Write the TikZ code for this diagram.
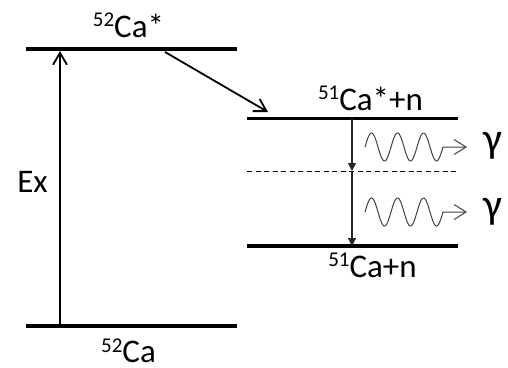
\documentclass[tikz,border=0pt]{standalone}
\usepackage{fontspec}
\setmainfont{Carlito}
\usetikzlibrary{arrows.meta}
\newcommand\isot[1]{\raisebox{10.3pt}{\fontsize{21}{21}\selectfont #1}}
\begin{document}
\begin{tikzpicture}[x=1pt,y=-1pt,
  lbl/.style={inner sep=0pt, anchor=base, font=\fontsize{33}{40}\selectfont},
  glbl/.style={inner sep=0pt, anchor=base, font=\fontsize{42}{50}\selectfont},
  level/.style={line width=3.5pt},
  excite/.style={line width=1.8pt, -{Straight Barb[length=12pt,width=14pt,line width=1.8pt]}},
  decay/.style={line width=1.2pt, draw=black!85, -{Triangle[length=8pt,width=8pt]}},
  wave/.style={line width=1pt, draw=black!75, -{Straight Barb[length=12pt,width=15pt,line width=1pt]}}]
\useasboundingbox (0,0) rectangle (508,367);
% level endpoints
\coordinate (gsL) at (26,49);   \coordinate (gsR) at (237,49);
\coordinate (g0L) at (26,326);  \coordinate (g0R) at (237,326);
\coordinate (eL) at (247,118.5); \coordinate (eR) at (458,118.5);
\coordinate (mL) at (247,171);  \coordinate (mR) at (458,171);
\coordinate (fL) at (247,246);  \coordinate (fR) at (458,246);
% arrow anchors
\coordinate (exB) at (60,326); \coordinate (exT) at (60,51);
\coordinate (dA) at (165,52); \coordinate (dB) at (268,112);
\coordinate (v1) at (352,118.5); \coordinate (v2) at (352,171); \coordinate (v3) at (352,246);
\coordinate (w1s) at (365,147); \coordinate (w1t) at (467,147);
\coordinate (w2s) at (365,212); \coordinate (w2t) at (467,212);
% levels
\draw[level] (gsL) -- (gsR);
\draw[level] (g0L) -- (g0R);
\draw[level] (eL) -- (eR);
\draw[level] (fL) -- (fR);
\draw[line width=0.9pt, dash pattern=on 5pt off 3.5pt] (mL) -- (mR);
% transitions
\draw[excite] (exB) -- (exT);
\draw[excite] (dA) -- (dB);
\draw[decay] (v1) -- (v2);
\draw[decay] (v2) -- (v3);
\draw[wave, shift={(w1s)}] plot[domain=0:3, samples=120, smooth] ({26*\x}, {-14*sin(\x*360)}) -- (w1t);
\draw[wave, shift={(w2s)}] plot[domain=0:3, samples=120, smooth] ({26*\x}, {-14*sin(\x*360)}) -- (w2t);
% labels
\node[lbl] (lgs) at (128.5,37) {\isot{52}Ca*};
\node[lbl] (lg0) at (128.5,362.5) {\isot{52}Ca};
\node[lbl] (lex) at (32.5,192) {Ex};
\node[lbl] (le) at (370.5,110) {\isot{51}Ca*+n};
\node[lbl] (lf) at (372.5,277) {\isot{51}Ca+n};
\node[glbl] (g1) at (492.5,152.5) {γ};
\node[glbl] (g2) at (492.5,218) {γ};
\end{tikzpicture}
\end{document}
